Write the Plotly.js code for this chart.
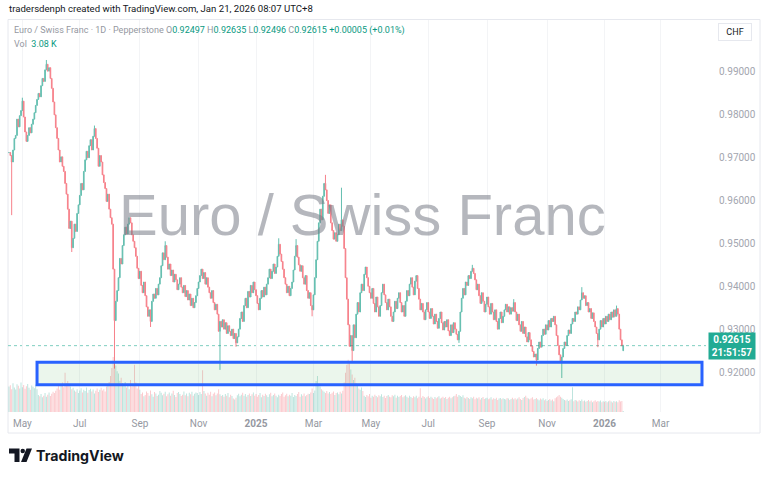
<!DOCTYPE html>
<html>
<head>
<meta charset="utf-8">
<script src="https://cdn.plot.ly/plotly-3.0.1.min.js"></script>
<style>
  html, body { margin: 0; padding: 0; background: #ffffff; }
  #chart { width: 768px; height: 477px; }
</style>
</head>
<body>
<div id="chart"></div>
<script>
// ---- Data (EUR/CHF daily, Pepperstone) ----
const firstDate = '2024-04-17';
const close = [
  0.9712,0.9705,0.9690,0.9718,0.9745,0.9752,0.9790,0.9772,0.9798,0.9810,
  0.9832,0.9795,0.9760,0.9738,0.9752,0.9770,0.9758,0.9778,0.9790,0.9805,
  0.9822,0.9836,0.9850,0.9842,0.9868,0.9885,0.9878,0.9905,0.9918,0.9902,
  0.9910,0.9885,0.9862,0.9830,0.9800,0.9770,0.9745,0.9718,0.9690,0.9702,
  0.9680,0.9668,0.9640,0.9615,0.9580,0.9535,0.9552,0.9490,0.9512,0.9545,
  0.9528,0.9570,0.9590,0.9612,0.9640,0.9625,0.9668,0.9695,0.9715,0.9700,
  0.9728,0.9742,0.9718,0.9750,0.9768,0.9745,0.9722,0.9680,0.9705,0.9690,
  0.9660,0.9642,0.9628,0.9598,0.9615,0.9580,0.9560,0.9545,0.9440,0.9320,
  0.9365,0.9390,0.9420,0.9465,0.9452,0.9495,0.9520,0.9538,0.9522,0.9545,
  0.9560,0.9548,0.9520,0.9505,0.9490,0.9470,0.9442,0.9418,0.9435,0.9402,
  0.9385,0.9410,0.9378,0.9352,0.9330,0.9345,0.9318,0.9365,0.9382,0.9372,
  0.9395,0.9380,0.9405,0.9420,0.9448,0.9478,0.9462,0.9495,0.9468,0.9440,
  0.9452,0.9425,0.9438,0.9410,0.9428,0.9415,0.9392,0.9405,0.9420,0.9398,
  0.9385,0.9402,0.9376,0.9390,0.9368,0.9382,0.9355,0.9372,0.9350,0.9362,
  0.9378,0.9395,0.9410,0.9425,0.9440,0.9418,0.9432,0.9405,0.9420,0.9398,
  0.9385,0.9372,0.9390,0.9362,0.9345,0.9358,0.9335,0.9295,0.9318,0.9305,
  0.9322,0.9300,0.9315,0.9290,0.9308,0.9295,0.9285,0.9300,0.9278,0.9290,
  0.9268,0.9282,0.9300,0.9325,0.9340,0.9318,0.9355,0.9372,0.9350,0.9388,
  0.9375,0.9402,0.9385,0.9410,0.9392,0.9378,0.9360,0.9345,0.9372,0.9390,
  0.9375,0.9398,0.9380,0.9405,0.9420,0.9440,0.9418,0.9435,0.9452,0.9430,
  0.9445,0.9470,0.9498,0.9475,0.9458,0.9440,0.9420,0.9405,0.9385,0.9400,
  0.9378,0.9395,0.9410,0.9438,0.9470,0.9495,0.9468,0.9450,0.9435,0.9448,
  0.9420,0.9405,0.9425,0.9390,0.9372,0.9385,0.9355,0.9345,0.9380,0.9420,
  0.9462,0.9505,0.9548,0.9580,0.9555,0.9610,0.9640,0.9625,0.9600,0.9570,
  0.9590,0.9548,0.9530,0.9510,0.9525,0.9505,0.9520,0.9545,0.9530,0.9555,
  0.9540,0.9488,0.9420,0.9370,0.9310,0.9260,0.9285,0.9250,0.9310,0.9280,
  0.9335,0.9362,0.9340,0.9385,0.9405,0.9390,0.9428,0.9445,0.9420,0.9400,
  0.9385,0.9372,0.9395,0.9360,0.9340,0.9375,0.9352,0.9330,0.9355,0.9385,
  0.9405,0.9380,0.9362,0.9345,0.9370,0.9352,0.9330,0.9318,0.9340,0.9365,
  0.9348,0.9372,0.9385,0.9362,0.9340,0.9355,0.9330,0.9365,0.9390,0.9378,
  0.9405,0.9420,0.9398,0.9380,0.9412,0.9425,0.9395,0.9370,0.9345,0.9360,
  0.9340,0.9322,0.9345,0.9362,0.9340,0.9325,0.9348,0.9330,0.9312,0.9335,
  0.9318,0.9302,0.9325,0.9340,0.9315,0.9298,0.9318,0.9305,0.9322,0.9296,
  0.9285,0.9310,0.9292,0.9315,0.9300,0.9288,0.9275,0.9295,0.9340,0.9372,
  0.9395,0.9380,0.9410,0.9402,0.9425,0.9418,0.9435,0.9442,0.9430,0.9415,
  0.9392,0.9405,0.9378,0.9360,0.9385,0.9365,0.9340,0.9358,0.9375,0.9352,
  0.9335,0.9360,0.9340,0.9322,0.9345,0.9318,0.9300,0.9325,0.9340,0.9315,
  0.9330,0.9345,0.9358,0.9340,0.9352,0.9335,0.9350,0.9342,0.9362,0.9340,
  0.9320,0.9335,0.9310,0.9295,0.9318,0.9290,0.9305,0.9282,0.9270,0.9292,
  0.9275,0.9260,0.9248,0.9235,0.9242,0.9228,0.9255,0.9270,0.9258,0.9285,
  0.9300,0.9288,0.9310,0.9298,0.9320,0.9305,0.9325,0.9318,0.9330,0.9310,
  0.9285,0.9262,0.9240,0.9225,0.9235,0.9255,0.9270,0.9262,0.9285,0.9298,
  0.9290,0.9312,0.9325,0.9318,0.9340,0.9335,0.9352,0.9345,0.9368,0.9385,
  0.9372,0.9378,0.9355,0.9362,0.9340,0.9348,0.9325,0.9338,0.9318,0.9305,
  0.9290,0.9275,0.9300,0.9320,0.9305,0.9325,0.9312,0.9330,0.9318,0.9335,
  0.9322,0.9340,0.9328,0.9345,0.9330,0.9348,0.9335,0.9300,0.9275,0.9261,
  0.92615
];
const lastOpen = 0.92497, lastHigh = 0.92635, lastLow = 0.92496;
// notable wick extremes (bar index -> price)
const wickHighIdx = [10, 28, 64, 117, 202, 215, 237, 249, 347, 378, 429, 455];
const wickHighVal = [0.9840, 0.9928, 0.9775, 0.9505, 0.9512, 0.9510, 0.9660, 0.9630, 0.9450, 0.9370, 0.9398, 0.9355];
const wickLowIdx = [2, 47, 79, 106, 158, 170, 227, 257, 337, 395, 414, 441];
const wickLowVal = [0.9566, 0.9480, 0.9208, 0.9305, 0.9205, 0.9259, 0.9330, 0.9222, 0.9268, 0.9215, 0.9186, 0.9258];
// volume (K)
const volume = [
  78,82,70,88,75,69,85,80,72,90,
  76,83,71,79,86,74,68,81,77,73,
  84,70,52,48,55,45,50,58,47,53,
  60,49,56,62,58,65,72,80,68,85,
  90,76,120,88,95,82,78,70,74,66,
  62,70,58,66,73,60,68,64,75,59,
  67,71,63,69,57,65,72,61,68,74,
  66,70,63,78,85,92,110,135,168,150,
  142,125,118,96,105,88,80,92,75,86,
  70,98,78,84,145,90,72,80,68,55,
  60,48,52,63,58,50,66,54,47,61,
  57,49,53,64,59,51,56,62,48,54,
  60,50,57,65,52,46,58,61,55,49,
  53,63,51,57,48,59,54,62,50,56,
  60,58,52,61,55,128,64,57,50,59,
  53,62,48,56,60,51,57,70,54,49,
  52,47,55,50,58,45,53,49,41,38,
  44,51,56,48,53,59,50,55,47,52,
  57,49,54,60,50,55,47,52,58,45,
  53,49,56,51,46,54,59,48,52,57,
  50,45,53,49,55,60,47,51,56,48,
  53,50,58,46,52,49,55,61,47,54,
  50,57,48,52,56,55,60,72,58,66,
  95,110,86,78,70,66,62,58,64,57,
  61,55,59,63,52,58,60,54,62,57,
  65,90,120,145,160,150,130,115,98,105,
  88,80,72,68,75,64,50,46,52,48,
  55,44,50,47,53,49,45,51,48,54,
  46,50,43,49,52,47,45,51,48,53,
  44,50,46,49,52,45,48,51,47,44,
  50,46,43,48,45,50,42,47,73,44,
  49,46,41,45,48,43,47,44,40,46,
  42,45,48,41,44,47,43,46,40,44,
  47,42,45,48,50,55,47,52,49,46,
  51,44,41,46,43,40,45,42,47,39,
  44,41,45,38,43,46,40,42,44,39,
  41,45,38,42,40,44,37,41,43,39,
  42,40,38,43,41,37,40,44,39,42,
  38,41,45,40,37,43,46,50,44,41,
  39,42,45,38,40,43,39,36,41,38,
  42,36,39,34,37,40,35,38,33,42,
  45,48,52,47,44,40,37,35,38,34,
  36,39,76,33,37,35,32,36,34,38,
  33,35,31,34,37,32,35,30,33,36,
  31,34,32,35,30,33,31,34,30,33,
  35,32,29,34,31,33,30,36,32,34,
  3.08
];
const tickDates = ['2024-05-01','2024-07-01','2024-09-02','2024-11-01','2025-01-01','2025-03-03','2025-05-01','2025-07-01','2025-09-01','2025-11-03','2026-01-01','2026-03-02'];
const tickLabels = ['May','Jul','Sep','Nov','<b>2025</b>','Mar','May','Jul','Sep','Nov','<b>2026</b>','Mar'];
const priceTicks = [0.92, 0.93, 0.94, 0.95, 0.96, 0.97, 0.98, 0.99];
const zoneLow = 0.9170, zoneHigh = 0.9223, zoneStart = '2024-05-16', zoneEnd = '2026-04-14';
const lastPrice = 0.92615, countdown = '21:51:57';

// ---- Build series ----
function businessDays(start, n) {
  const out = []; const d = new Date(start + 'T00:00:00Z');
  while (out.length < n) {
    const wd = d.getUTCDay();
    if (wd !== 0 && wd !== 6) out.push(d.toISOString().slice(0, 10));
    d.setUTCDate(d.getUTCDate() + 1);
  }
  return out;
}
const n = close.length;
const dates = businessDays(firstDate, n);
const open = close.map((c, i) => i === 0 ? close[0] : close[i - 1]);
open[n - 1] = lastOpen;
const high = close.map((c, i) => Math.max(c, open[i]));
const low = close.map((c, i) => Math.min(c, open[i]));
high[n - 1] = lastHigh; low[n - 1] = lastLow;
wickHighIdx.forEach((k, j) => { high[k] = Math.max(high[k], wickHighVal[j]); });
wickLowIdx.forEach((k, j) => { low[k] = Math.min(low[k], wickLowVal[j]); });

const UP = '#089981', DOWN = '#f23645';
const volColors = close.map((c, i) => c >= open[i] ? 'rgba(8,153,129,0.28)' : 'rgba(242,54,69,0.28)');

// pixel helpers for paper coordinates (plot area x 8..706, y 20..412)
const L = 8, R = 706, T = 20, B = 412;
const px = x => (x - L) / (R - L);
const py = y => (B - y) / (B - T);

const traces = [
  {
    type: 'bar', x: dates, y: volume, yaxis: 'y2',
    marker: { color: volColors, line: { width: 0 } },
    hoverinfo: 'skip', showlegend: false
  },
  {
    type: 'candlestick', x: dates, open: open, high: high, low: low, close: close,
    increasing: { line: { color: UP, width: 1 }, fillcolor: UP },
    decreasing: { line: { color: DOWN, width: 1 }, fillcolor: DOWN },
    whiskerwidth: 0, opacity: 0.62, hoverinfo: 'skip', showlegend: false
  }
];

const fontUI = 'Roboto, "Liberation Sans", Arial, sans-serif';
const gray = '#9598a1';
const green = '#089981';

const legendText =
  '<span style="color:' + gray + '">Euro / Swiss Franc · 1D · Pepperstone</span>' +
  ' <span style="color:' + gray + '">O</span><span style="color:' + green + '">0.92497</span>' +
  ' <span style="color:' + gray + '">H</span><span style="color:' + green + '">0.92635</span>' +
  ' <span style="color:' + gray + '">L</span><span style="color:' + green + '">0.92496</span>' +
  ' <span style="color:' + gray + '">C</span><span style="color:' + green + '">0.92615</span>' +
  ' <span style="color:' + green + '">+0.00005 (+0.01%)</span>';

const layout = {
  width: 768, height: 477,
  margin: { l: L, r: 768 - R, t: T, b: 477 - B, pad: 0 },
  paper_bgcolor: '#ffffff', plot_bgcolor: '#ffffff',
  showlegend: false, hovermode: false, bargap: 0.3,
  xaxis: {
    type: 'date',
    range: ['2024-04-16 06:00', '2026-04-17'],
    rangebreaks: [{ bounds: ['sat', 'mon'] }],
    rangeslider: { visible: false },
    tickmode: 'array', tickvals: tickDates, ticktext: tickLabels,
    showgrid: true, gridcolor: '#f3f4f6', gridwidth: 1,
    zeroline: false, showline: false, ticks: '',
    tickfont: { family: fontUI, size: 10, color: '#9598a1' },
    ticklabelstandoff: 4, fixedrange: true
  },
  yaxis: {
    side: 'right', range: [0.91067, 1.00213],
    tickmode: 'array', tickvals: priceTicks, ticktext: priceTicks.map(v => v.toFixed(5)),
    showgrid: false, zeroline: false, showline: false, ticks: '',
    tickfont: { family: fontUI, size: 10, color: '#a3a6af' },
    ticklabelstandoff: 12, fixedrange: true
  },
  yaxis2: {
    overlaying: 'y', range: [0, 1200], visible: false, fixedrange: true
  },
  shapes: [
    // outer frame
    { type: 'rect', xref: 'paper', yref: 'paper', x0: px(8), x1: px(760), y0: py(433), y1: py(19.5),
      line: { color: '#e6e8ee', width: 1 }, fillcolor: 'rgba(0,0,0,0)', layer: 'below' },
    // last price dotted line
    { type: 'line', xref: 'paper', yref: 'y', x0: 0, x1: 1, y0: lastPrice, y1: lastPrice,
      line: { color: '#7fcfc0', width: 1, dash: 'dot' }, layer: 'below' },
    // support zone
    { type: 'rect', xref: 'x', yref: 'y', x0: zoneStart, x1: zoneEnd, y0: zoneLow, y1: zoneHigh,
      line: { color: '#2962ff', width: 3 }, fillcolor: 'rgba(76,175,80,0.11)', layer: 'above' },
    // TradingView logo mark
    { type: 'path', xref: 'paper', yref: 'paper',
      path: 'M ' + px(9) + ',' + py(448.5) + ' L ' + px(19.5) + ',' + py(448.5) + ' L ' + px(19.5) + ',' + py(462) +
            ' L ' + px(14.5) + ',' + py(462) + ' L ' + px(14.5) + ',' + py(453.5) + ' L ' + px(9) + ',' + py(453.5) + ' Z',
      fillcolor: '#131722', line: { width: 0 } },
    { type: 'circle', xref: 'paper', yref: 'paper', x0: px(20.5), x1: px(25), y0: py(453.2), y1: py(448.7),
      fillcolor: '#131722', line: { width: 0 } },
    { type: 'path', xref: 'paper', yref: 'paper',
      path: 'M ' + px(26.5) + ',' + py(448.5) + ' L ' + px(32) + ',' + py(448.5) + ' L ' + px(26.5) + ',' + py(462) +
            ' L ' + px(21) + ',' + py(462) + ' Z',
      fillcolor: '#131722', line: { width: 0 } }
  ],
  annotations: [
    // watermark
    { xref: 'paper', yref: 'paper', x: px(362), y: py(214), xanchor: 'center', yanchor: 'middle',
      text: 'Euro / Swiss Franc', showarrow: false,
      font: { family: '"Liberation Sans", Arial, sans-serif', size: 58, color: 'rgba(120,123,134,0.55)' } },
    // snapshot header
    { xref: 'paper', yref: 'paper', x: px(7), y: py(9), xanchor: 'left', yanchor: 'middle',
      text: 'tradersdenph created with TradingView.com, Jan 21, 2026 08:07 UTC+8', showarrow: false,
      font: { family: fontUI, size: 9.6, color: '#131722' } },
    // legend line
    { xref: 'paper', yref: 'paper', x: px(12), y: py(31), xanchor: 'left', yanchor: 'middle',
      text: legendText, showarrow: false, font: { family: fontUI, size: 9, color: gray } },
    { xref: 'paper', yref: 'paper', x: px(12), y: py(43.5), xanchor: 'left', yanchor: 'middle',
      text: '<span style="color:' + gray + '">Vol</span>  <span style="color:' + green + '">3.08 K</span>',
      showarrow: false, font: { family: fontUI, size: 9, color: gray } },
    // currency box
    { xref: 'paper', yref: 'paper', x: px(735), y: py(32), xanchor: 'center', yanchor: 'middle',
      text: 'CHF', showarrow: false, bgcolor: '#ffffff', bordercolor: '#e6e8ee', borderwidth: 1,
      borderpad: 3, width: 26, font: { family: fontUI, size: 9, color: '#131722' } },
    // last price label
    { xref: 'paper', yref: 'y', x: px(708), y: lastPrice, xanchor: 'left', yanchor: 'middle',
      text: '<b>0.92615</b><br><b>' + countdown + '</b>', showarrow: false, align: 'center',
      bgcolor: '#22ab94', borderpad: 1, width: 44,
      font: { family: fontUI, size: 10, color: '#ffffff' } },
    // bottom logo text
    { xref: 'paper', yref: 'paper', x: px(34), y: py(455.5), xanchor: 'left', yanchor: 'middle',
      text: '<b>TradingView</b>', showarrow: false,
      font: { family: 'Inter, Roboto, sans-serif', size: 14.2, color: '#131722' } }
  ]
};

Plotly.newPlot('chart', traces, layout, { displayModeBar: false, staticPlot: true });
</script>
</body>
</html>
